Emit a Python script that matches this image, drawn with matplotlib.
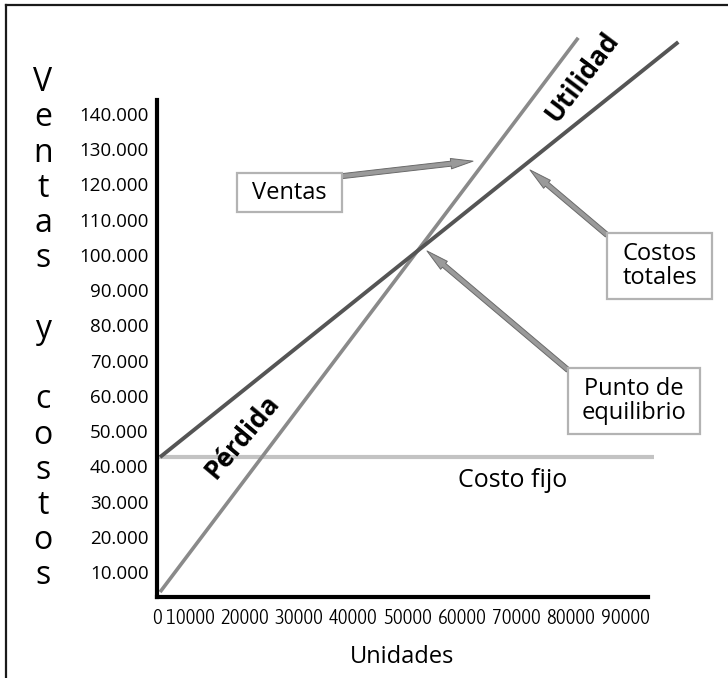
import matplotlib.pyplot as plt
from matplotlib import font_manager
from matplotlib.patches import Rectangle, FancyArrowPatch
from matplotlib.lines import Line2D
from matplotlib.transforms import blended_transform_factory

plt.rcParams['font.family'] = ['Open Sans', 'DejaVu Sans']

# values
units_ventas = [4500, 81400]
ventas = [4300, 161600]
units_costos = [4500, 99800]
costos_totales = [42600, 160400]
units_fijo = [3940, 95300]
costo_fijo = [42600, 42600]

x_ticks = [10000, 20000, 30000, 40000, 50000, 60000, 70000, 80000, 90000]
x_labels = [str(t) for t in x_ticks]
y_ticks = [10000 * i for i in range(1, 15)]
y_labels = [f"{t // 1000}.000" for t in y_ticks]
y_title = "Ventas y costos"

# narrow face for the x tick labels
files = {f.fname.split('/')[-1]: f.fname for f in font_manager.fontManager.ttflist}
xfont = font_manager.FontProperties(family='DejaVu Sans', size=11)
for want, size in [('AsapCondensed-Light.ttf', 15), ('AsapCondensed-Regular.ttf', 15),
                   ('DejaVuSansCondensed.ttf', 11.5)]:
    if want in files:
        xfont = font_manager.FontProperties(fname=files[want], size=size)
        break

fig = plt.figure(figsize=(7.28, 6.78), dpi=100)
ax = fig.add_axes([157 / 728, 1 - 597 / 678, (648 - 157) / 728, (597 - 100) / 678])
ax.set_xlim(3940, 94230)
ax.set_ylim(2900, 143950)

for s in ['top', 'right']:
    ax.spines[s].set_visible(False)
for s in ['left', 'bottom']:
    ax.spines[s].set_linewidth(3)
    ax.spines[s].set_color('black')

ax.set_xticks([3940] + x_ticks, ['0'] + x_labels)
for lab in ax.get_xticklabels():
    lab.set_fontproperties(xfont)
ax.set_yticks(y_ticks, y_labels, fontsize=13.5)
ax.tick_params(axis='both', length=0)
ax.tick_params(axis='x', pad=8)
ax.tick_params(axis='y', pad=6)
ax.set_xlabel("Unidades", fontsize=17, labelpad=12)

# lines
ax.plot(units_fijo, costo_fijo, color='#c3c3c3', lw=3, solid_capstyle='butt', clip_on=False)
ax.plot(units_ventas, ventas, color='#8a8a8a', lw=2.6, solid_capstyle='butt', clip_on=False)
ax.plot(units_costos, costos_totales, color='#555555', lw=2.8, solid_capstyle='butt', clip_on=False)

# vertical stacked y title
tr = blended_transform_factory(fig.transFigure, ax.transData)
for i, ch in enumerate(y_title):
    fig.text(43 / 728, 150000 - i * 10000, ch, transform=tr, fontsize=23,
             ha='center', va='center_baseline')

# rotated region labels
ax.text(19600, 48300, "Pérdida", rotation=50, fontsize=19, fontweight='bold',
        ha='center', va='center', rotation_mode='anchor', clip_on=False)
ax.text(82100, 150500, "Utilidad", rotation=53, fontsize=19, fontweight='bold',
        ha='center', va='center', rotation_mode='anchor', clip_on=False)
ax.text(69400, 36100, "Costo fijo", fontsize=18, ha='center', va='center')

# arrows
def arrow(tail, tip):
    a = FancyArrowPatch(tail, tip, arrowstyle="simple,head_length=1.6,head_width=0.75,tail_width=0.36",
                        mutation_scale=10, facecolor='#9a9a9a', edgecolor='#6a6a6a', lw=0.7,
                        shrinkA=0, shrinkB=0, clip_on=False, zorder=3)
    ax.add_patch(a)

arrow((37959, 122339), (62051, 126597))
arrow((86694, 105649), (72533, 124099))
arrow((79522, 67329), (53591, 101108))

# boxes
def box(x0, y0, x1, y1, label):
    r = Rectangle((x0, y0), x1 - x0, y1 - y0, facecolor='white', edgecolor='#b3b3b3',
                  lw=1.6, clip_on=False, zorder=4)
    ax.add_patch(r)
    ax.text((x0 + x1) / 2, (y0 + y1) / 2, label, fontsize=17, ha='center', va='center',
            linespacing=0.95, zorder=5, clip_on=False)

box(18648, 112120, 37959, 123190, "Ventas")
box(86694, 87482, 106004, 106216, "Costos\ntotales")
box(79522, 49163, 103797, 67897, "Punto de\nequilibrio")

# outer frame (only top and left visible)
fig.add_artist(Line2D([6 / 728, 6 / 728], [0, 1 - 5 / 678], transform=fig.transFigure,
                      color='#1a1a1a', lw=1.6))
fig.add_artist(Line2D([6 / 728, 1], [1 - 5 / 678, 1 - 5 / 678], transform=fig.transFigure,
                      color='#1a1a1a', lw=1.6))

fig.savefig("out.png", dpi=100)
